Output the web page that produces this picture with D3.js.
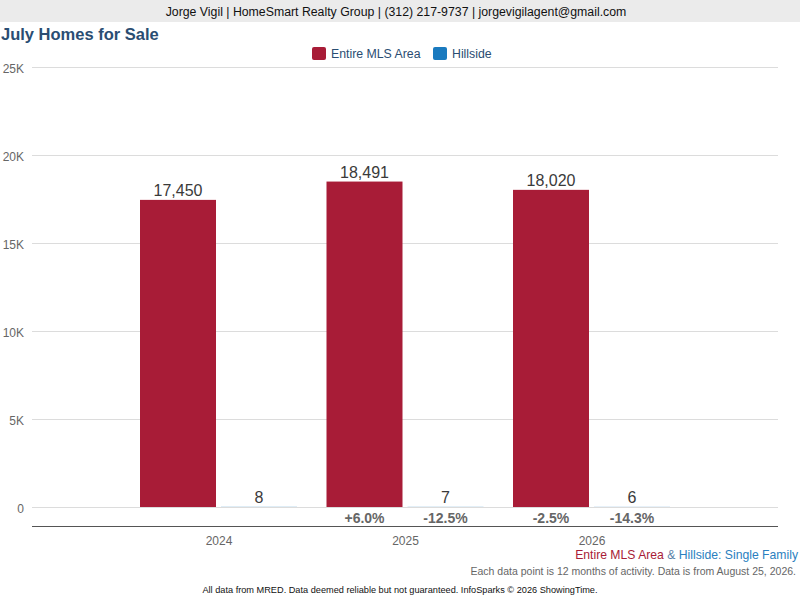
<!DOCTYPE html>
<html><head><meta charset="utf-8">
<script src="https://cdn.jsdelivr.net/npm/d3@7"></script>
<style>
html,body{margin:0;padding:0;background:#fff;}
svg{display:block;font-family:"Liberation Sans",Arial,sans-serif;}
</style></head><body>
<svg id="c" width="800" height="600"></svg>
<script>
const years = ["2024","2025","2026"];
const seriesNames = ["Entire MLS Area","Hillside"];
const mlsValues = [17450, 18491, 18020];
const hillsideValues = [8, 7, 6];
const mlsChange = [null, "+6.0%", "-2.5%"];
const hillsideChange = [null, "-12.5%", "-14.3%"];
const yTicks = [0, 5000, 10000, 15000, 20000, 25000];
const yTickLabels = ["0","5K","10K","15K","20K","25K"];
const colors = ["#a81c37", "#1a7abf"];

const svg = d3.select("#c");
const pLeft = 32, pRight = 778, pTop = 67, pBottom = 507;

// header
svg.append("rect").attr("x",0).attr("y",0).attr("width",800).attr("height",22).attr("fill","#ebebeb");
svg.append("text").attr("x",396).attr("y",16).attr("text-anchor","middle").attr("font-size",12.3).attr("fill","#111")
  .text("Jorge Vigil | HomeSmart Realty Group | (312) 217-9737 | jorgevigilagent@gmail.com");

svg.append("text").attr("x",1).attr("y",40).attr("font-size",16.5).attr("font-weight","bold").attr("fill","#2a4d72").text("July Homes for Sale");

// legend
const leg = svg.append("g");
const legItems = [{x:312,t:seriesNames[0],c:colors[0]},{x:433,t:seriesNames[1],c:colors[1]}];
legItems.forEach(d=>{
  leg.append("rect").attr("x",d.x).attr("y",47).attr("width",14).attr("height",13).attr("rx",2).attr("fill",d.c);
  leg.append("text").attr("x",d.x+19).attr("y",58).attr("font-size",12.3).attr("fill","#2a4d72").text(d.t);
});

const y = d3.scaleLinear().domain([0,25000]).range([pBottom, pTop]);
const x = d3.scalePoint().domain(years).range([pLeft,pRight]).padding(1);
const barW = 76, off = 40.5;

// grid
const yAxis = d3.axisLeft(y).tickValues(yTicks).tickSize(-(pRight-pLeft)).tickFormat((d,i)=>yTickLabels[i]);
const gy = svg.append("g").attr("transform",`translate(${pLeft},0)`).call(yAxis);
gy.select(".domain").remove();
gy.selectAll(".tick line").attr("stroke","#dcdcdc");
gy.selectAll(".tick text").attr("x",-8).attr("dy","0.45em").attr("font-size",12).attr("fill","#666").attr("font-family","Liberation Sans, Arial, sans-serif");

// x axis
const xAxis = d3.axisBottom(x).tickSize(0).tickPadding(10);
const gx = svg.append("g").attr("transform",`translate(0,526)`).call(xAxis);
gx.select(".domain").attr("stroke","#555").attr("d",`M${pLeft},0.5H${pRight}`);
gx.selectAll(".tick text").attr("font-size",12).attr("fill","#666").attr("font-family","Liberation Sans, Arial, sans-serif");

// bars
const data = years.map((yr,i)=>({yr, mls:mlsValues[i], hs:hillsideValues[i], mc:mlsChange[i], hc:hillsideChange[i]}));
svg.selectAll(".mls").data(data).enter().append("rect")
  .attr("x",d=>x(d.yr)-off-barW/2).attr("y",d=>y(d.mls)).attr("width",barW).attr("height",d=>pBottom-y(d.mls)).attr("fill",colors[0]);
svg.selectAll(".hs").data(data).enter().append("rect")
  .attr("x",d=>x(d.yr)+off-barW/2).attr("y",d=>y(d.hs)).attr("width",barW).attr("height",d=>pBottom-y(d.hs)).attr("fill",colors[1]);

const fmt = d3.format(",");
svg.selectAll(".ml").data(data).enter().append("text")
  .attr("x",d=>x(d.yr)-off).attr("y",d=>y(d.mls)-4).attr("text-anchor","middle").attr("font-size",16).attr("fill","#3a3a3a").text(d=>fmt(d.mls));
svg.selectAll(".hl").data(data).enter().append("text")
  .attr("x",d=>x(d.yr)+off).attr("y",d=>y(d.hs)-4).attr("text-anchor","middle").attr("font-size",16).attr("fill","#3a3a3a").text(d=>fmt(d.hs));
svg.selectAll(".mc").data(data.filter(d=>d.mc)).enter().append("text")
  .attr("x",d=>x(d.yr)-off).attr("y",523).attr("text-anchor","middle").attr("font-size",14).attr("font-weight","bold").attr("fill","#666").text(d=>d.mc);
svg.selectAll(".hc").data(data.filter(d=>d.hc)).enter().append("text")
  .attr("x",d=>x(d.yr)+off).attr("y",523).attr("text-anchor","middle").attr("font-size",14).attr("font-weight","bold").attr("fill","#666").text(d=>d.hc);

// footer
const f1 = svg.append("text").attr("x",798).attr("y",559).attr("text-anchor","end").attr("font-size",12.2);
f1.append("tspan").attr("fill",colors[0]).text("Entire MLS Area");
f1.append("tspan").attr("fill","#5a7fa8").text(" & ");
f1.append("tspan").attr("fill","#2a7fc0").text("Hillside: Single Family");
svg.append("text").attr("x",796).attr("y",575).attr("text-anchor","end").attr("font-size",10.5).attr("fill","#666")
  .text("Each data point is 12 months of activity. Data is from August 25, 2026.");
svg.append("text").attr("x",400).attr("y",593).attr("text-anchor","middle").attr("font-size",9.2).attr("fill","#111")
  .text("All data from MRED. Data deemed reliable but not guaranteed. InfoSparks © 2026 ShowingTime.");
</script>
</body></html>
